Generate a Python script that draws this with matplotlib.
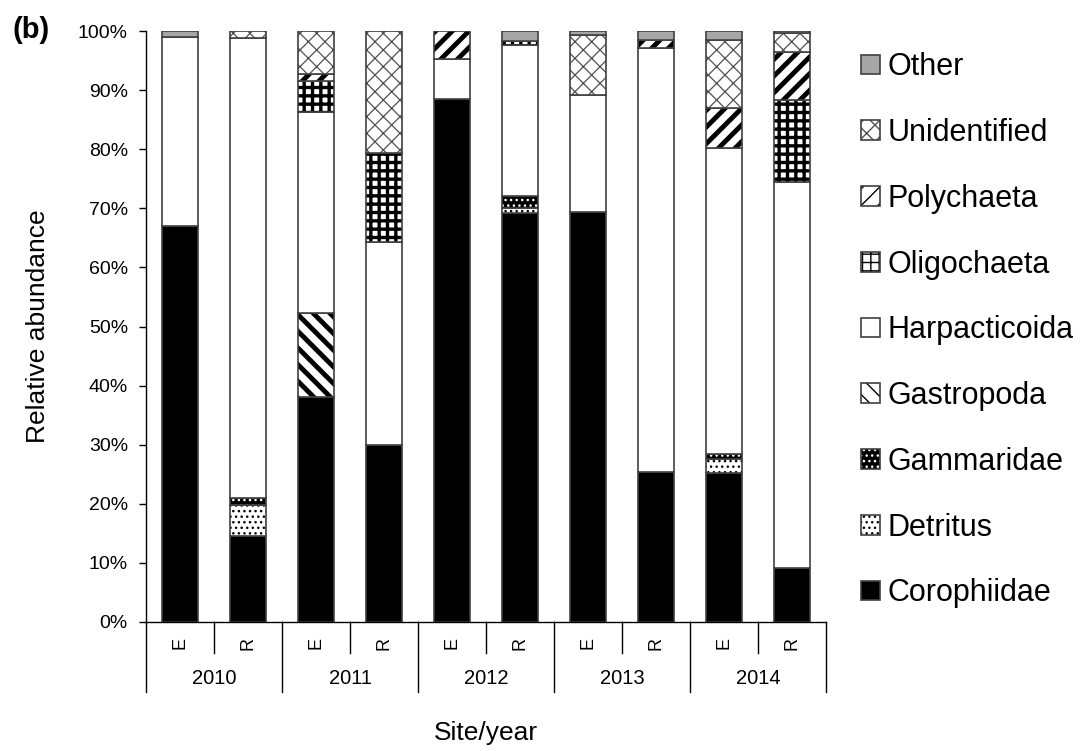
import numpy as np
import matplotlib.pyplot as plt
from matplotlib.patches import Patch
from matplotlib.transforms import blended_transform_factory

plt.rcParams['font.family'] = ['Liberation Sans', 'DejaVu Sans']

# --- Dados (% da dieta por local/ano) ---
anos = ['2010', '2011', '2012', '2013', '2014']
locais = ['E', 'R']

corophiidae = [67.0, 14.5, 38.0, 30.0, 88.5, 69.2, 69.4, 25.4, 25.2, 9.1]
detritus = [0, 5.3, 0, 0, 0, 0.9, 0, 0, 2.4, 0]
gammaridae = [0, 1.2, 0, 0, 0, 2.0, 0, 0, 0.8, 0]
gastropoda = [0, 0, 14.3, 0, 0, 0, 0, 0, 0, 0]
harpacticoida = [32.0, 77.8, 34.0, 34.3, 6.8, 25.5, 19.8, 71.8, 51.8, 65.3]
oligochaeta = [0, 0, 5.2, 15.1, 0, 0.7, 0, 0, 0, 13.9]
polychaeta = [0, 0, 1.3, 0, 4.7, 0, 0, 1.3, 6.8, 8.2]
unidentified = [0, 1.2, 7.2, 20.6, 0, 0, 10.1, 0, 11.4, 3.2]
other = [1.0, 0, 0, 0, 0, 1.7, 0.7, 1.5, 1.6, 0.3]

# ordem de empilhamento (base -> topo): nome, valores, cor de fundo, hachura, cor da hachura, espessura
camadas = [
    ('Corophiidae', corophiidae, 'black', None, 'black', 1.0),
    ('Detritus', detritus, 'white', '...', 'black', 1.0),
    ('Gammaridae', gammaridae, 'black', '...', 'white', 1.0),
    ('Gastropoda', gastropoda, 'white', '\\\\', 'black', 3.5),
    ('Harpacticoida', harpacticoida, 'white', None, 'black', 1.0),
    ('Oligochaeta', oligochaeta, 'white', '++', 'black', 2.4),
    ('Polychaeta', polychaeta, 'white', '//', 'black', 3.5),
    ('Unidentified', unidentified, 'white', 'xx', '#505050', 0.9),
    ('Other', other, '#a6a6a6', None, '#a6a6a6', 1.0),
]

COR_BORDA = '#404040'
LARGURA = 0.52

fig = plt.figure(figsize=(10.81, 7.51), dpi=100)
ax = fig.add_axes([146 / 1081, 129 / 751, 680 / 1081, 591 / 751])

x = np.arange(len(corophiidae))
base = np.zeros(len(x))
handles = []
for nome, valores, fundo, hachura, cor_hach, lw_hach in camadas:
    v = np.array(valores, dtype=float)
    m = v > 0
    ax.bar(x[m], v[m], LARGURA, bottom=base[m], color=fundo, hatch=hachura,
           edgecolor=cor_hach, linewidth=0, hatch_linewidth=lw_hach)
    ax.bar(x[m], v[m], LARGURA, bottom=base[m], fill=False,
           edgecolor=COR_BORDA, linewidth=1.2)
    base += v
    h_fundo = Patch(facecolor=fundo, hatch=hachura, edgecolor=cor_hach,
                    linewidth=0, hatch_linewidth=min(lw_hach, 1.8))
    h_borda = Patch(fill=False, edgecolor=COR_BORDA, linewidth=1.2)
    handles.append(((h_fundo, h_borda), nome))

# --- Eixos ---
ax.set_xlim(-0.5, len(x) - 0.5)
ax.set_ylim(0, 100)
ax.set_yticks(np.arange(0, 101, 10))
ax.set_yticklabels([f'{t}%' for t in range(0, 101, 10)])
ax.tick_params(axis='y', direction='out', length=5, width=1, labelsize=14, pad=8)
ax.set_xticks([])
for lado in ['top', 'right']:
    ax.spines[lado].set_visible(False)
for lado in ['left', 'bottom']:
    ax.spines[lado].set_linewidth(1.0)
ax.set_ylabel('Relative abundance', fontsize=19)
ax.yaxis.set_label_coords(-0.141, 0.5)

# --- Rótulos de categoria em dois níveis ---
trans = blended_transform_factory(ax.transData, ax.transAxes)
for g in range(len(anos) + 1):
    ax.plot([2 * g - 0.5] * 2, [0, -70 / 591], color='black', lw=1.0,
            transform=trans, clip_on=False)
for g, ano in enumerate(anos):
    ax.plot([2 * g + 0.5] * 2, [0, -31 / 591], color='black', lw=1.0,
            transform=trans, clip_on=False)
    ax.text(2 * g + 0.5, -56 / 591, ano, transform=trans, ha='center',
            va='center', fontsize=14.5)
    for k, local in enumerate(locais):
        ax.text(2 * g + k, -21 / 591, local, transform=trans, ha='center',
                va='center', rotation=90, fontsize=13)

ax.set_xlabel('Site/year', fontsize=19, va='center')
ax.xaxis.set_label_coords(0.5, -111 / 591)

# --- Legenda (topo = Other) ---
handles = handles[::-1]
fig.legend([h for h, _ in handles], [n for _, n in handles],
           loc='upper left', bbox_to_anchor=(846 / 1081, 1 - 37 / 751),
           frameon=False, fontsize=22, handlelength=0.62, handleheight=0.62,
           handletextpad=0.25, labelspacing=1.17, borderpad=0)

fig.text(12 / 1081, 1 - 30 / 751, '(b)', fontsize=21, fontweight='bold',
         va='center', ha='left')

fig.savefig('out.png', dpi=100)
